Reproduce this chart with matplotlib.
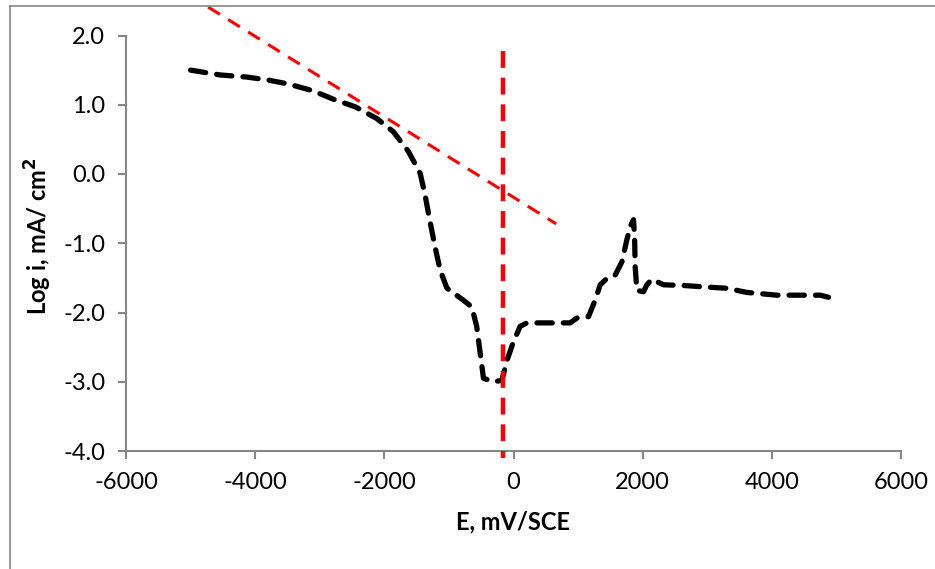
import matplotlib
matplotlib.use("Agg")
import matplotlib.pyplot as plt
from matplotlib.lines import Line2D

# Polarization curve (E in mV/SCE, log i in mA/cm2)
E_mV = [-5000, -4540, -4131, -3819, -3488, -3100, -2790, -2450, -2115, -1860,
        -1630, -1445, -1370, -1290, -1215, -1135, -1030, -780, -645, -570,
        -515, -465, -310, -180, -100, 0, 103, 207, 517, 878,
        980, 1161, 1265, 1342, 1445, 1574, 1678, 1755, 1807, 1858,
        1875, 1884, 1910, 2013, 2065, 2142, 2323, 2633, 2942, 3304,
        3613, 4078, 4439, 4749, 4878]
log_i = [1.50, 1.43, 1.40, 1.36, 1.30, 1.20, 1.08, 0.97, 0.80, 0.61,
         0.33, 0.01, -0.30, -0.70, -1.05, -1.39, -1.65, -1.82, -1.92, -2.20,
         -2.59, -2.95, -3.00, -2.98, -2.69, -2.42, -2.20, -2.15, -2.15, -2.15,
         -2.08, -2.06, -1.82, -1.60, -1.51, -1.46, -1.27, -0.95, -0.76, -0.66,
         -0.91, -1.34, -1.68, -1.70, -1.60, -1.52, -1.60, -1.61, -1.63, -1.65,
         -1.71, -1.75, -1.75, -1.75, -1.78]

# Tafel extrapolation line and corrosion potential line
tafel_E = [-4727, 661]
tafel_logi = [2.41, -0.72]
ecorr_E = [-170, -170]
ecorr_logi = [1.78, -4.1]

xticks = [-6000, -4000, -2000, 0, 2000, 4000, 6000]
yticks = [-4.0, -3.0, -2.0, -1.0, 0.0, 1.0, 2.0]

W, H = 935, 569
fig = plt.figure(figsize=(W / 100, H / 100), dpi=100)
plt.rcParams['font.family'] = ['Lato', 'DejaVu Sans']

ax = fig.add_axes([126 / W, (H - 451) / H, (901 - 126) / W, (451 - 35.5) / H])
ax.set_xlim(-6000, 6000)
ax.set_ylim(-4.0, 2.0)

ax.plot(E_mV, log_i, color='black', lw=3.8, ls=(0, (2.9, 2.1)),
        dash_capstyle='round', solid_capstyle='round', zorder=3)
ax.plot(tafel_E, tafel_logi, color='#FF0000', lw=2.2, ls=(0, (4.5, 3.2)),
        clip_on=False, zorder=2)
ax.plot(ecorr_E, ecorr_logi, color='#FF0000', lw=3.2, ls=(0, (3.8, 2.2)),
        clip_on=False, zorder=4)

gray = '#868686'
for s in ['top', 'right']:
    ax.spines[s].set_visible(False)
for s in ['left', 'bottom']:
    ax.spines[s].set_color(gray)
    ax.spines[s].set_linewidth(1.5)

ax.set_xticks(xticks)
ax.set_xticklabels([f"{v}" for v in xticks])
ax.set_yticks(yticks)
ax.set_yticklabels([f"{v:.1f}" for v in yticks])
ax.tick_params(axis='both', direction='out', length=6, width=1.5, color=gray,
               labelsize=17, labelcolor='black', pad=9)

fig.text(513 / W, 1 - 522 / H, "E, mV/SCE", ha='center', va='center',
         fontsize=17, fontweight='bold')
fig.text(38 / W, 1 - 236 / H, "Log i, mA/ cm$^\\mathbf{2}$", ha='center', va='center',
         rotation=90, fontsize=17, fontweight='bold')

# Partial chart border (left and top)
fig.add_artist(Line2D([10 / W, 10 / W], [0, 1 - 6 / H], transform=fig.transFigure,
                      color=gray, lw=1.2))
fig.add_artist(Line2D([10 / W, 1], [1 - 6 / H, 1 - 6 / H], transform=fig.transFigure,
                      color=gray, lw=1.2))

fig.savefig("out.png", dpi=100)
